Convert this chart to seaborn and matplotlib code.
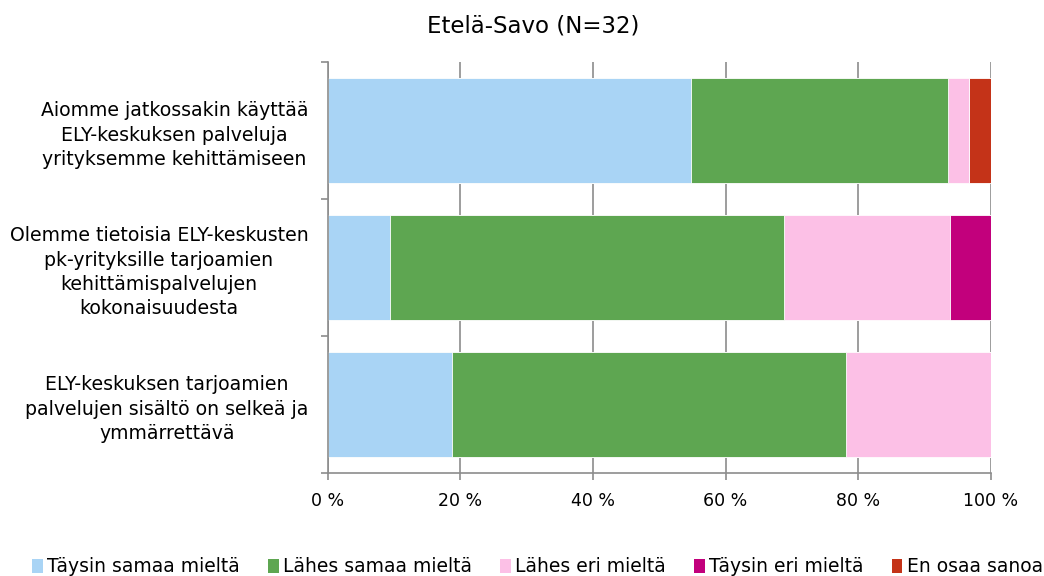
import matplotlib
matplotlib.use("Agg")
import matplotlib.pyplot as plt
import seaborn as sns
import numpy as np
import pandas as pd
from matplotlib.patches import Patch

categories = [
    "Aiomme jatkossakin käyttää\nELY-keskuksen palveluja\nyrityksemme kehittämiseen",
    "Olemme tietoisia ELY-keskusten\npk-yrityksille tarjoamien\nkehittämispalvelujen\nkokonaisuudesta",
    "ELY-keskuksen tarjoamien\npalvelujen sisältö on selkeä ja\nymmärrettävä",
]
series_names = ["Täysin samaa mieltä", "Lähes samaa mieltä", "Lähes eri mieltä",
                "Täysin eri mieltä", "En osaa sanoa"]
taysin_samaa = [54.8, 9.4, 18.75]
lahes_samaa = [38.7, 59.4, 59.4]
lahes_eri = [3.2, 25.0, 21.85]
taysin_eri = [0.0, 6.2, 0.0]
en_osaa = [3.3, 0.0, 0.0]
colors = ["#A9D4F5", "#5EA651", "#FCC0E6", "#C2007C", "#C43318"]
xticks = [0, 20, 40, 60, 80, 100]
xticklabels = ["0 %", "20 %", "40 %", "60 %", "80 %", "100 %"]
title = "Etelä-Savo (N=32)"

sns.set_theme(style="white")
plt.rcParams["font.family"] = ["DejaVu Sans"]
plt.rcParams["text.color"] = "black"
plt.rcParams["xtick.color"] = "#8c8c8c"
plt.rcParams["xtick.labelcolor"] = "black"
plt.rcParams["ytick.labelcolor"] = "black"

fig = plt.figure(figsize=(10.44, 5.76), dpi=100)
ax = fig.add_axes([0.314, 0.179, 0.635, 0.713])

series = [taysin_samaa, lahes_samaa, lahes_eri, taysin_eri, en_osaa]
cum = np.cumsum(np.array(series), axis=0)
for i in reversed(range(len(series))):
    df = pd.DataFrame({"cat": categories, "val": cum[i]})
    sns.barplot(data=df, y="cat", x="val", color=colors[i], orient="h",
                width=0.77, edgecolor="white", linewidth=0.6, ax=ax, zorder=2,
                saturation=1)

ax.set_xlim(0, 100)
ax.set_ylim(2.5, -0.5)
ax.set_xticks(xticks)
ax.set_xticklabels(xticklabels, fontsize=12.5, color="black")
ax.set_xlabel("")
ax.set_ylabel("")
ax.set_yticks([0, 1, 2])
ax.set_yticklabels(categories, fontsize=13.6, ha="right", multialignment="center",
                   linespacing=1.36, color="black")
ax.set_yticks([-0.5, 0.5, 1.5, 2.5], minor=True)
ax.tick_params(axis="y", which="major", length=0, pad=14)
ax.tick_params(axis="y", which="minor", length=5, color="#8c8c8c", width=1.2, direction="out", left=True)
ax.tick_params(axis="x", length=5, color="#8c8c8c", width=1.2, direction="out", bottom=True, pad=9)
ax.grid(axis="x", color="#8c8c8c", linewidth=1.2, zorder=0)
ax.set_axisbelow(True)
for s in ["top", "right"]:
    ax.spines[s].set_visible(False)
for s in ["left", "bottom"]:
    ax.spines[s].set_color("#8c8c8c")
    ax.spines[s].set_linewidth(1.2)

fig.text(0.511, 0.955, title, ha="center", va="center", fontsize=16.5, color="black")

handles = [Patch(facecolor=c, edgecolor="none") for c in colors]
fig.legend(handles, series_names, loc="lower center", ncol=5, frameon=False,
           bbox_to_anchor=(0.515, -0.03), fontsize=13.5, handlelength=0.55,
           handleheight=0.8, handletextpad=0.25, columnspacing=1.5,
           labelcolor="black")

fig.savefig("out.png", dpi=100)
